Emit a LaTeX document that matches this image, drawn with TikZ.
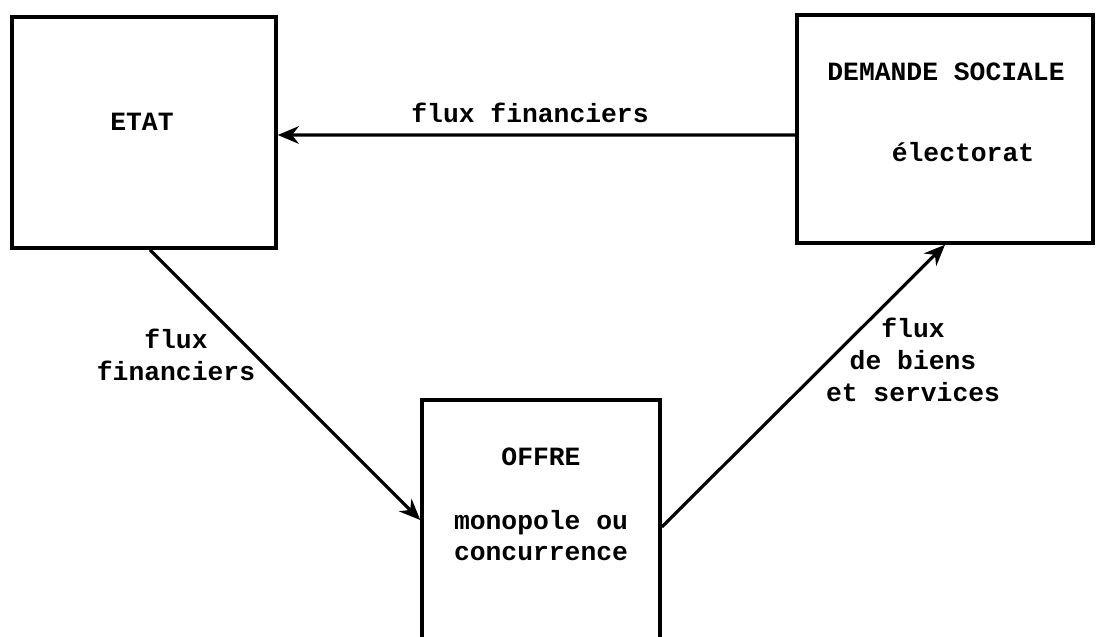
\documentclass[tikz,border=0pt]{standalone}
\usepackage{fontspec}
\setmonofont{Liberation Mono}
\usetikzlibrary{arrows.meta,positioning}

\tikzset{
  bloc/.style={draw, line width=2pt, inner sep=0pt},
  texte/.style={font=\ttfamily\bfseries\fontsize{15}{18}\selectfont, align=center},
  fleche/.style={line width=1.8pt, -{Stealth[length=12pt,width=10pt]}}
}

\begin{document}
\begin{tikzpicture}
    \useasboundingbox (0,0) rectangle (21.94,-12.72);

    \node[bloc, minimum width=5.28cm, minimum height=4.62cm] (etat) at (2.88,-2.65) {};
    \node[texte] (etattxt) at (2.84,-2.44) {ETAT};

    \node[bloc, minimum width=5.92cm, minimum height=4.56cm] (demande) at (18.9,-2.58) {};
    \node[texte] (demandetxt) at (18.92,-1.44) {DEMANDE SOCIALE};
    \node[texte] (electorattxt) at (19.26,-3.04) {électorat};

    \node[bloc, minimum width=4.76cm, minimum height=5.6cm] (offre) at (10.82,-10.8) {};
    \node[texte] (offretxt) at (10.82,-9.14) {OFFRE};
    \node[texte] (marchetxt) at (10.82,-10.71) {monopole ou\\concurrence};

    \draw[fleche] ([yshift=-0.12cm]demande.west) -- ([yshift=-0.05cm]etat.east);
    \node[texte] (fluxhaut) at (10.6,-2.26) {flux financiers};

    \draw[fleche] ([xshift=0.12cm]etat.south) -- ([yshift=0.4cm]offre.west);
    \node[texte] (fluxgauche) at (3.52,-7.1) {flux\\financiers};

    \draw[fleche] ([yshift=0.26cm]offre.east) -- (demande.south);
    \node[texte] (fluxdroite) at (18.26,-7.2) {flux\\de biens\\et services};
\end{tikzpicture}
\end{document}
